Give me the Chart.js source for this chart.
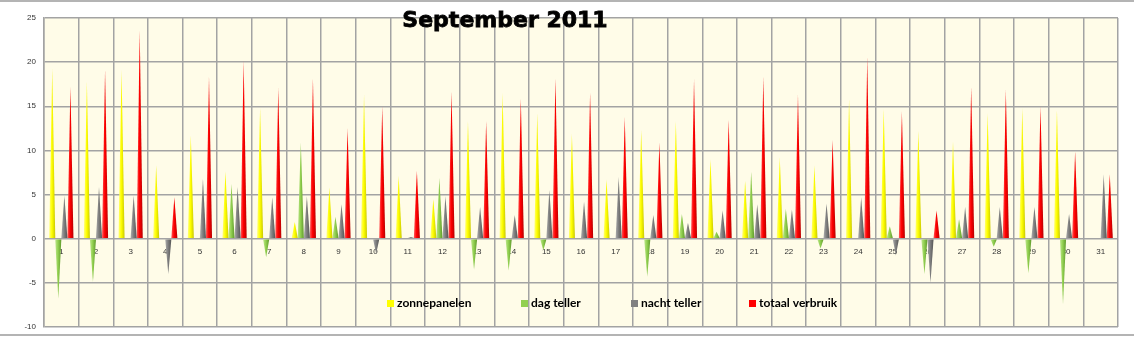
<!DOCTYPE html>
<html lang="nl">
<head>
<meta charset="UTF-8">
<title>September 2011</title>
<style>
  body { margin: 0; background: #ffffff; }
  canvas { display: block; }
</style>
</head>
<body>
<canvas id="maandChart" width="1134" height="337"></canvas>
<script src="https://cdn.jsdelivr.net/npm/chart.js"></script>
<script>
// dagwaarden september 2011 (kWh)
const dagen = ['1', '2', '3', '4', '5', '6', '7', '8', '9', '10', '11', '12', '13', '14', '15', '16',
    '17', '18', '19', '20', '21', '22', '23', '24', '25', '26', '27', '28', '29', '30', '31'];
const zonnepanelen = [19.3, 17.8, 19.1, 8.3, 11.7, 7.6, 14.8, 1.9, 5.8, 16.3, 7.1, 4.5, 13.3, 16.5, 14.2, 11.9,
    6.7, 12.3, 13.3, 9.0, 6.6, 9.2, 8.3, 15.8, 14.7, 12.2, 11.0, 14.2, 14.8, 14.6, 0];
const dagTeller = [-6.8, -4.9, 0, 0.1, 0, 6.2, -2.1, 10.9, 2.5, 0.1, 0.1, 6.9, -3.5, -3.6, -1.3, 0,
    0, -4.3, 2.8, 0.8, 7.6, 3.4, -1.1, 0, 1.4, -4.0, 2.2, -0.9, -3.9, -7.4, 0];
const nachtTeller = [4.9, 5.9, 4.9, -4.0, 6.8, 5.9, 4.7, 4.8, 3.9, -1.7, 0.2, 4.8, 3.6, 2.7, 5.5, 4.2,
    7.0, 2.7, 1.8, 3.2, 3.9, 3.3, 4.0, 4.7, -1.9, -5.0, 3.6, 3.6, 3.6, 2.8, 7.3];
const totaalVerbruik = [17.2, 19.1, 23.6, 4.7, 18.4, 20.2, 17.1, 18.2, 12.5, 15.0, 7.7, 16.7, 13.3, 15.9, 18.2, 16.5,
    13.8, 10.9, 18.1, 13.5, 18.4, 16.3, 11.2, 20.6, 14.4, 3.2, 17.2, 16.9, 15.0, 9.9, 7.3];
const yTicks = [-10, -5, 0, 5, 10, 15, 20, 25];

// kegelkleuren: licht (links), vol, donker (rechts)
const kleuren = [
    { vol: '#ffff00', licht: '#ffff7a', donker: '#c9c900' },
    { vol: '#92d050', licht: '#bde68c', donker: '#5f9a2c' },
    { vol: '#808080', licht: '#acacac', donker: '#555555' },
    { vol: '#ff0000', licht: '#ff5a5a', donker: '#b80000' }
];
const legendaX = [387, 521, 631, 749];

// elke staaf als spitse kegel tekenen
const kegels = {
    id: 'kegels',
    beforeDatasetDraw(chart, args) {
        const ctx = chart.ctx;
        const kleur = kleuren[args.index];
        ctx.save();
        args.meta.data.forEach(bar => {
            const { x, y, base, width } = bar.getProps(['x', 'y', 'base', 'width'], true);
            if (Math.abs(base - y) < 0.3) return;
            const half = width / 2;
            const grad = ctx.createLinearGradient(x - half, 0, x + half, 0);
            grad.addColorStop(0, kleur.licht);
            grad.addColorStop(0.45, kleur.vol);
            grad.addColorStop(1, kleur.donker);
            ctx.fillStyle = grad;
            ctx.beginPath();
            ctx.moveTo(x - half, base);
            ctx.lineTo(x, y);
            ctx.lineTo(x + half, base);
            ctx.closePath();
            ctx.fill();
            // lichte punt
            const punt = ctx.createLinearGradient(0, y, 0, y + (base - y) * 0.12);
            punt.addColorStop(0, 'rgba(255,255,255,0.35)');
            punt.addColorStop(1, 'rgba(255,255,255,0)');
            ctx.fillStyle = punt;
            ctx.fill();
        });
        ctx.restore();
        return false;
    }
};

// achtergrond, titel, legenda en rand
const opmaak = {
    id: 'opmaak',
    beforeDraw(chart) {
        const { ctx, chartArea: a } = chart;
        ctx.save();
        ctx.fillStyle = '#fffce8';
        ctx.fillRect(a.left, a.top, a.right - a.left, a.bottom - a.top);
        ctx.restore();
    },
    afterDraw(chart) {
        const ctx = chart.ctx;
        ctx.save();
        ctx.fillStyle = '#000';
        ctx.strokeStyle = '#000';
        ctx.lineWidth = 0.8;
        ctx.font = 'bold 22px "DejaVu Sans"';
        ctx.textAlign = 'center';
        ctx.textBaseline = 'alphabetic';
        ctx.fillText('September 2011', 505, 27);
        ctx.strokeText('September 2011', 505, 27);

        ctx.font = 'bold 12px Lato';
        ctx.textAlign = 'left';
        ctx.textBaseline = 'middle';
        chart.data.datasets.forEach((ds, i) => {
            ctx.fillStyle = ds.backgroundColor;
            ctx.fillRect(legendaX[i], 300, 7, 7);
            ctx.fillStyle = '#000';
            ctx.fillText(ds.label, legendaX[i] + 10, 303.5);
        });

        ctx.strokeStyle = '#b4b4b4';
        ctx.lineWidth = 2;
        ctx.beginPath();
        ctx.moveTo(0, 1); ctx.lineTo(1134, 1);
        ctx.moveTo(0, 335); ctx.lineTo(1134, 335);
        ctx.stroke();
        ctx.restore();
    }
};

new Chart(document.getElementById('maandChart'), {
    type: 'bar',
    data: {
        labels: dagen,
        datasets: [
            { label: 'zonnepanelen', data: zonnepanelen, backgroundColor: '#ffff00' },
            { label: 'dag teller', data: dagTeller, backgroundColor: '#92d050' },
            { label: 'nacht teller', data: nachtTeller, backgroundColor: '#808080' },
            { label: 'totaal verbruik', data: totaalVerbruik, backgroundColor: '#ff0000' }
        ]
    },
    options: {
        responsive: false,
        animation: false,
        layout: { padding: { top: 18, right: 16, bottom: 10, left: 0 } },
        datasets: { bar: { categoryPercentage: 0.7, barPercentage: 1.0 } },
        plugins: {
            legend: { display: false },
            tooltip: { enabled: false }
        },
        scales: {
            x: {
                position: { y: 0 },
                offset: true,
                grid: { offset: true, color: '#a3a3a3', lineWidth: 1.5, drawTicks: false },
                border: { display: false },
                ticks: {
                    color: '#333',
                    font: { family: '"Liberation Sans"', size: 8 },
                    padding: 8,
                    maxRotation: 0,
                    autoSkip: false
                }
            },
            y: {
                min: -10,
                max: 25,
                afterFit(scale) {
                    scale.width = 44;
                    scale.paddingTop = 0;
                    scale.paddingBottom = 0;
                },
                afterBuildTicks(scale) { scale.ticks = yTicks.map(v => ({ value: v })); },
                grid: { color: '#a3a3a3', lineWidth: 1.5, drawTicks: false },
                border: { color: '#a3a3a3', width: 1.5 },
                ticks: {
                    color: '#333',
                    font: { family: '"Liberation Sans"', size: 8 },
                    padding: 8
                }
            }
        }
    },
    plugins: [kegels, opmaak]
});
</script>
</body>
</html>
